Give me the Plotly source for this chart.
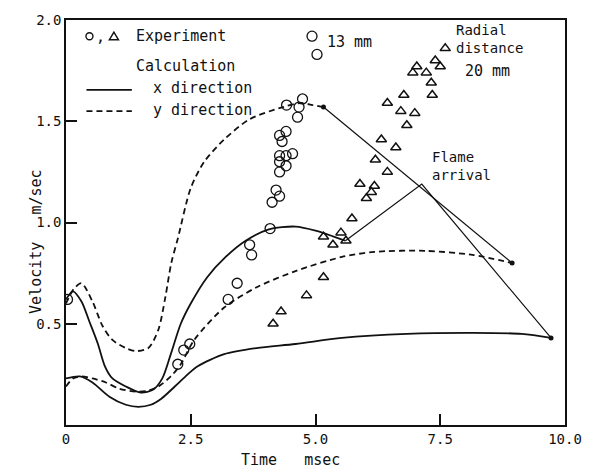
import plotly.graph_objects as go

# ---- data ----
# Calculation, radial distance 13 mm
y13_x = [0, 0.15, 0.31, 0.53, 0.73, 0.93, 1.2, 1.40, 1.65, 1.85, 1.99, 2.11, 2.24, 2.5, 2.77, 3.17, 3.68, 4.35, 4.7, 4.94, 5.16]
y13_y = [0.60, 0.67, 0.70, 0.61, 0.49, 0.42, 0.38, 0.365, 0.38, 0.47, 0.63, 0.80, 0.92, 1.17, 1.30, 1.41, 1.51, 1.57, 1.59, 1.58, 1.57]

x13_x = [0, 0.14, 0.31, 0.47, 0.64, 0.78, 0.93, 1.2, 1.5, 1.75, 1.93, 2.1, 2.3, 2.5, 2.83, 3.2, 3.6, 4.05, 4.6, 5.0, 5.6]
x13_y = [0.62, 0.66, 0.61, 0.51, 0.40, 0.29, 0.23, 0.19, 0.16, 0.175, 0.23, 0.35, 0.50, 0.60, 0.73, 0.83, 0.91, 0.965, 0.98, 0.96, 0.91]

# Calculation, radial distance 20 mm
y20_x = [0, 0.14, 0.31, 0.53, 0.8, 1.06, 1.4, 1.65, 1.85, 2.1, 2.3, 2.57, 3.17, 3.82, 4.6, 5.53, 6.18, 7.2, 8.15, 8.94]
y20_y = [0.19, 0.23, 0.24, 0.23, 0.21, 0.18, 0.165, 0.17, 0.19, 0.24, 0.30, 0.42, 0.58, 0.68, 0.76, 0.83, 0.855, 0.86, 0.84, 0.80]

x20_x = [0, 0.28, 0.53, 0.87, 1.2, 1.45, 1.7, 1.91, 2.18, 2.44, 2.64, 3.17, 3.82, 4.6, 5.53, 6.83, 8.15, 9.13, 9.72]
x20_y = [0.23, 0.24, 0.21, 0.14, 0.10, 0.09, 0.10, 0.13, 0.19, 0.25, 0.29, 0.35, 0.38, 0.40, 0.43, 0.45, 0.455, 0.45, 0.43]

# Flame arrival connecting lines
flame_a_x = [5.16, 8.94]
flame_a_y = [1.57, 0.80]
flame_b_x = [5.6, 7.13, 9.72]
flame_b_y = [0.91, 1.19, 0.43]
end_dots_x = [5.16, 8.94, 9.72]
end_dots_y = [1.57, 0.80, 0.43]

# Experiment, 13 mm (circles)
circ_x = [0.03, 2.24, 2.36, 2.48, 3.25, 3.43, 3.68, 3.72, 4.09,
          4.21, 4.13, 4.28, 4.28, 4.41, 4.54, 4.28, 4.41, 4.28,
          4.41, 4.28, 4.33, 4.42, 4.74, 4.67, 4.64, 4.93, 5.03]
circ_y = [0.62, 0.30, 0.37, 0.40, 0.62, 0.70, 0.89, 0.84, 0.97,
          1.16, 1.10, 1.13, 1.33, 1.33, 1.34, 1.30, 1.28, 1.25,
          1.45, 1.43, 1.40, 1.58, 1.61, 1.57, 1.52, 1.92, 1.83]

# Experiment, 20 mm (triangles)
tri_x = [7.60, 7.40, 7.50, 7.03, 6.95, 7.22, 7.32, 6.77, 7.34, 6.44, 6.71, 6.99, 6.83, 6.32, 6.61,
         6.20, 6.44, 5.89, 6.18, 6.12, 6.02, 5.73, 5.16, 5.51, 5.35, 5.61, 5.16, 4.82, 4.31, 4.15]
tri_y = [1.86, 1.80, 1.77, 1.77, 1.74, 1.74, 1.69, 1.63, 1.63, 1.59, 1.55, 1.54, 1.48, 1.41, 1.37,
         1.31, 1.25, 1.19, 1.18, 1.15, 1.12, 1.02, 0.93, 0.95, 0.89, 0.91, 0.73, 0.64, 0.56, 0.50]

x_tickvals = [0, 2.5, 5.0, 7.5, 10.0]
x_ticktext = ["0", "2.5", "5.0", "7.5", "10.0"]
y_tickvals = [0.5, 1.0, 1.5, 2.0]
y_ticktext = ["0.5", "1.0", "1.5", "2.0"]

FONT = "DejaVu Sans Mono"
BLACK = "#111111"

fig = go.Figure()

def curve(xs, ys, dash):
    fig.add_trace(go.Scatter(x=xs, y=ys, mode="lines",
                             line=dict(color=BLACK, width=1.8, dash=dash, shape="spline", smoothing=0.8),
                             showlegend=False, hoverinfo="skip"))

curve(y13_x, y13_y, "6px,4px")
curve(x13_x, x13_y, "solid")
curve(y20_x, y20_y, "6px,4px")
curve(x20_x, x20_y, "solid")

for xs, ys in [(flame_a_x, flame_a_y), (flame_b_x, flame_b_y)]:
    fig.add_trace(go.Scatter(x=xs, y=ys, mode="lines",
                             line=dict(color=BLACK, width=1.2),
                             showlegend=False, hoverinfo="skip"))

fig.add_trace(go.Scatter(x=end_dots_x, y=end_dots_y, mode="markers",
                         marker=dict(color=BLACK, size=5),
                         showlegend=False, hoverinfo="skip"))

fig.add_trace(go.Scatter(x=circ_x, y=circ_y, mode="markers",
                         marker=dict(symbol="circle-open", size=10, color=BLACK, line=dict(width=1.3)),
                         showlegend=False, hoverinfo="skip"))
fig.add_trace(go.Scatter(x=tri_x, y=tri_y, mode="markers",
                         marker=dict(symbol="triangle-up-open", size=9, color=BLACK, line=dict(width=1.5)),
                         showlegend=False, hoverinfo="skip"))

# ---- in-plot legend (drawn as shapes + text) ----
shapes = [
    dict(type="line", xref="x", yref="y", x0=0.41, x1=1.32, y0=1.655, y1=1.655,
         line=dict(color=BLACK, width=1.8)),
    dict(type="line", xref="x", yref="y", x0=0.41, x1=1.32, y0=1.55, y1=1.55,
         line=dict(color=BLACK, width=1.8, dash="6px,4px")),
    dict(type="circle", xref="x", yref="y", xsizemode="pixel", ysizemode="pixel",
         xanchor=0.47, yanchor=1.92, x0=-3.5, x1=3.5, y0=-3.5, y1=3.5,
         line=dict(color=BLACK, width=1.4)),
    dict(type="path", xref="x", yref="y", xsizemode="pixel", ysizemode="pixel",
         xanchor=0.96, yanchor=1.92, path="M -4.5,-3.5 L 4.5,-3.5 L 0,4 Z",
         line=dict(color=BLACK, width=1.5)),
]

def txt(x, y, s, xanchor="left", size=15):
    return dict(x=x, y=y, xref="x", yref="y", text=s, showarrow=False,
                xanchor=xanchor, yanchor="middle", align="left",
                font=dict(family=FONT, size=size, color=BLACK))

annotations = [
    dict(x=0.69, y=1.915, xref="x", yref="y", text=",", showarrow=False,
         font=dict(family=FONT, size=15, color=BLACK)),
    txt(1.36, 1.92, "Experiment"),
    txt(1.36, 1.775, "Calculation"),
    txt(1.70, 1.665, "x direction"),
    txt(1.70, 1.555, "y direction"),
    txt(5.2, 1.89, "13 mm"),
    txt(7.78, 1.905, "Radial<br>distance", size=14),
    txt(7.95, 1.75, "20 mm"),
    txt(7.3, 1.28, "Flame<br>arrival", size=14),
    dict(x=36, y=240, xref="paper", yref="paper", text="Velocity   m/sec", showarrow=False,
         textangle=-90, font=dict(family=FONT, size=15, color=BLACK)),
    dict(x=295, y=460, xref="paper", yref="paper", text="Time   msec", showarrow=False,
         font=dict(family=FONT, size=15, color=BLACK)),
]
# convert pixel positions of axis titles to paper coords
L, R, T, B = 66, 19, 17, 45
W, H = 594, 470
pw, ph = W - L - R, H - T - B
for a in annotations:
    if a.get("xref") == "paper":
        a["x"] = (a["x"] - L) / pw
        a["y"] = (H - B - a["y"]) / ph

axis_common = dict(showline=True, mirror=True, linecolor=BLACK, linewidth=1.5,
                   ticks="inside", ticklen=11, tickwidth=1.5, tickcolor=BLACK,
                   showgrid=False, zeroline=False,
                   tickfont=dict(family=FONT, size=14, color=BLACK))

fig.update_layout(
    width=W, height=H,
    margin=dict(l=L, r=R, t=T, b=B),
    paper_bgcolor="white", plot_bgcolor="white",
    xaxis=dict(range=[0, 10], tickvals=x_tickvals, ticktext=x_ticktext, **axis_common),
    yaxis=dict(range=[0, 2.0], tickvals=y_tickvals, ticktext=y_ticktext, **axis_common),
    shapes=shapes, annotations=annotations,
    showlegend=False,
)
fig.update_annotations(selector=dict(xref="paper"), xanchor="center", yanchor="middle")

fig.write_html("out.html", config={"displayModeBar": False})
